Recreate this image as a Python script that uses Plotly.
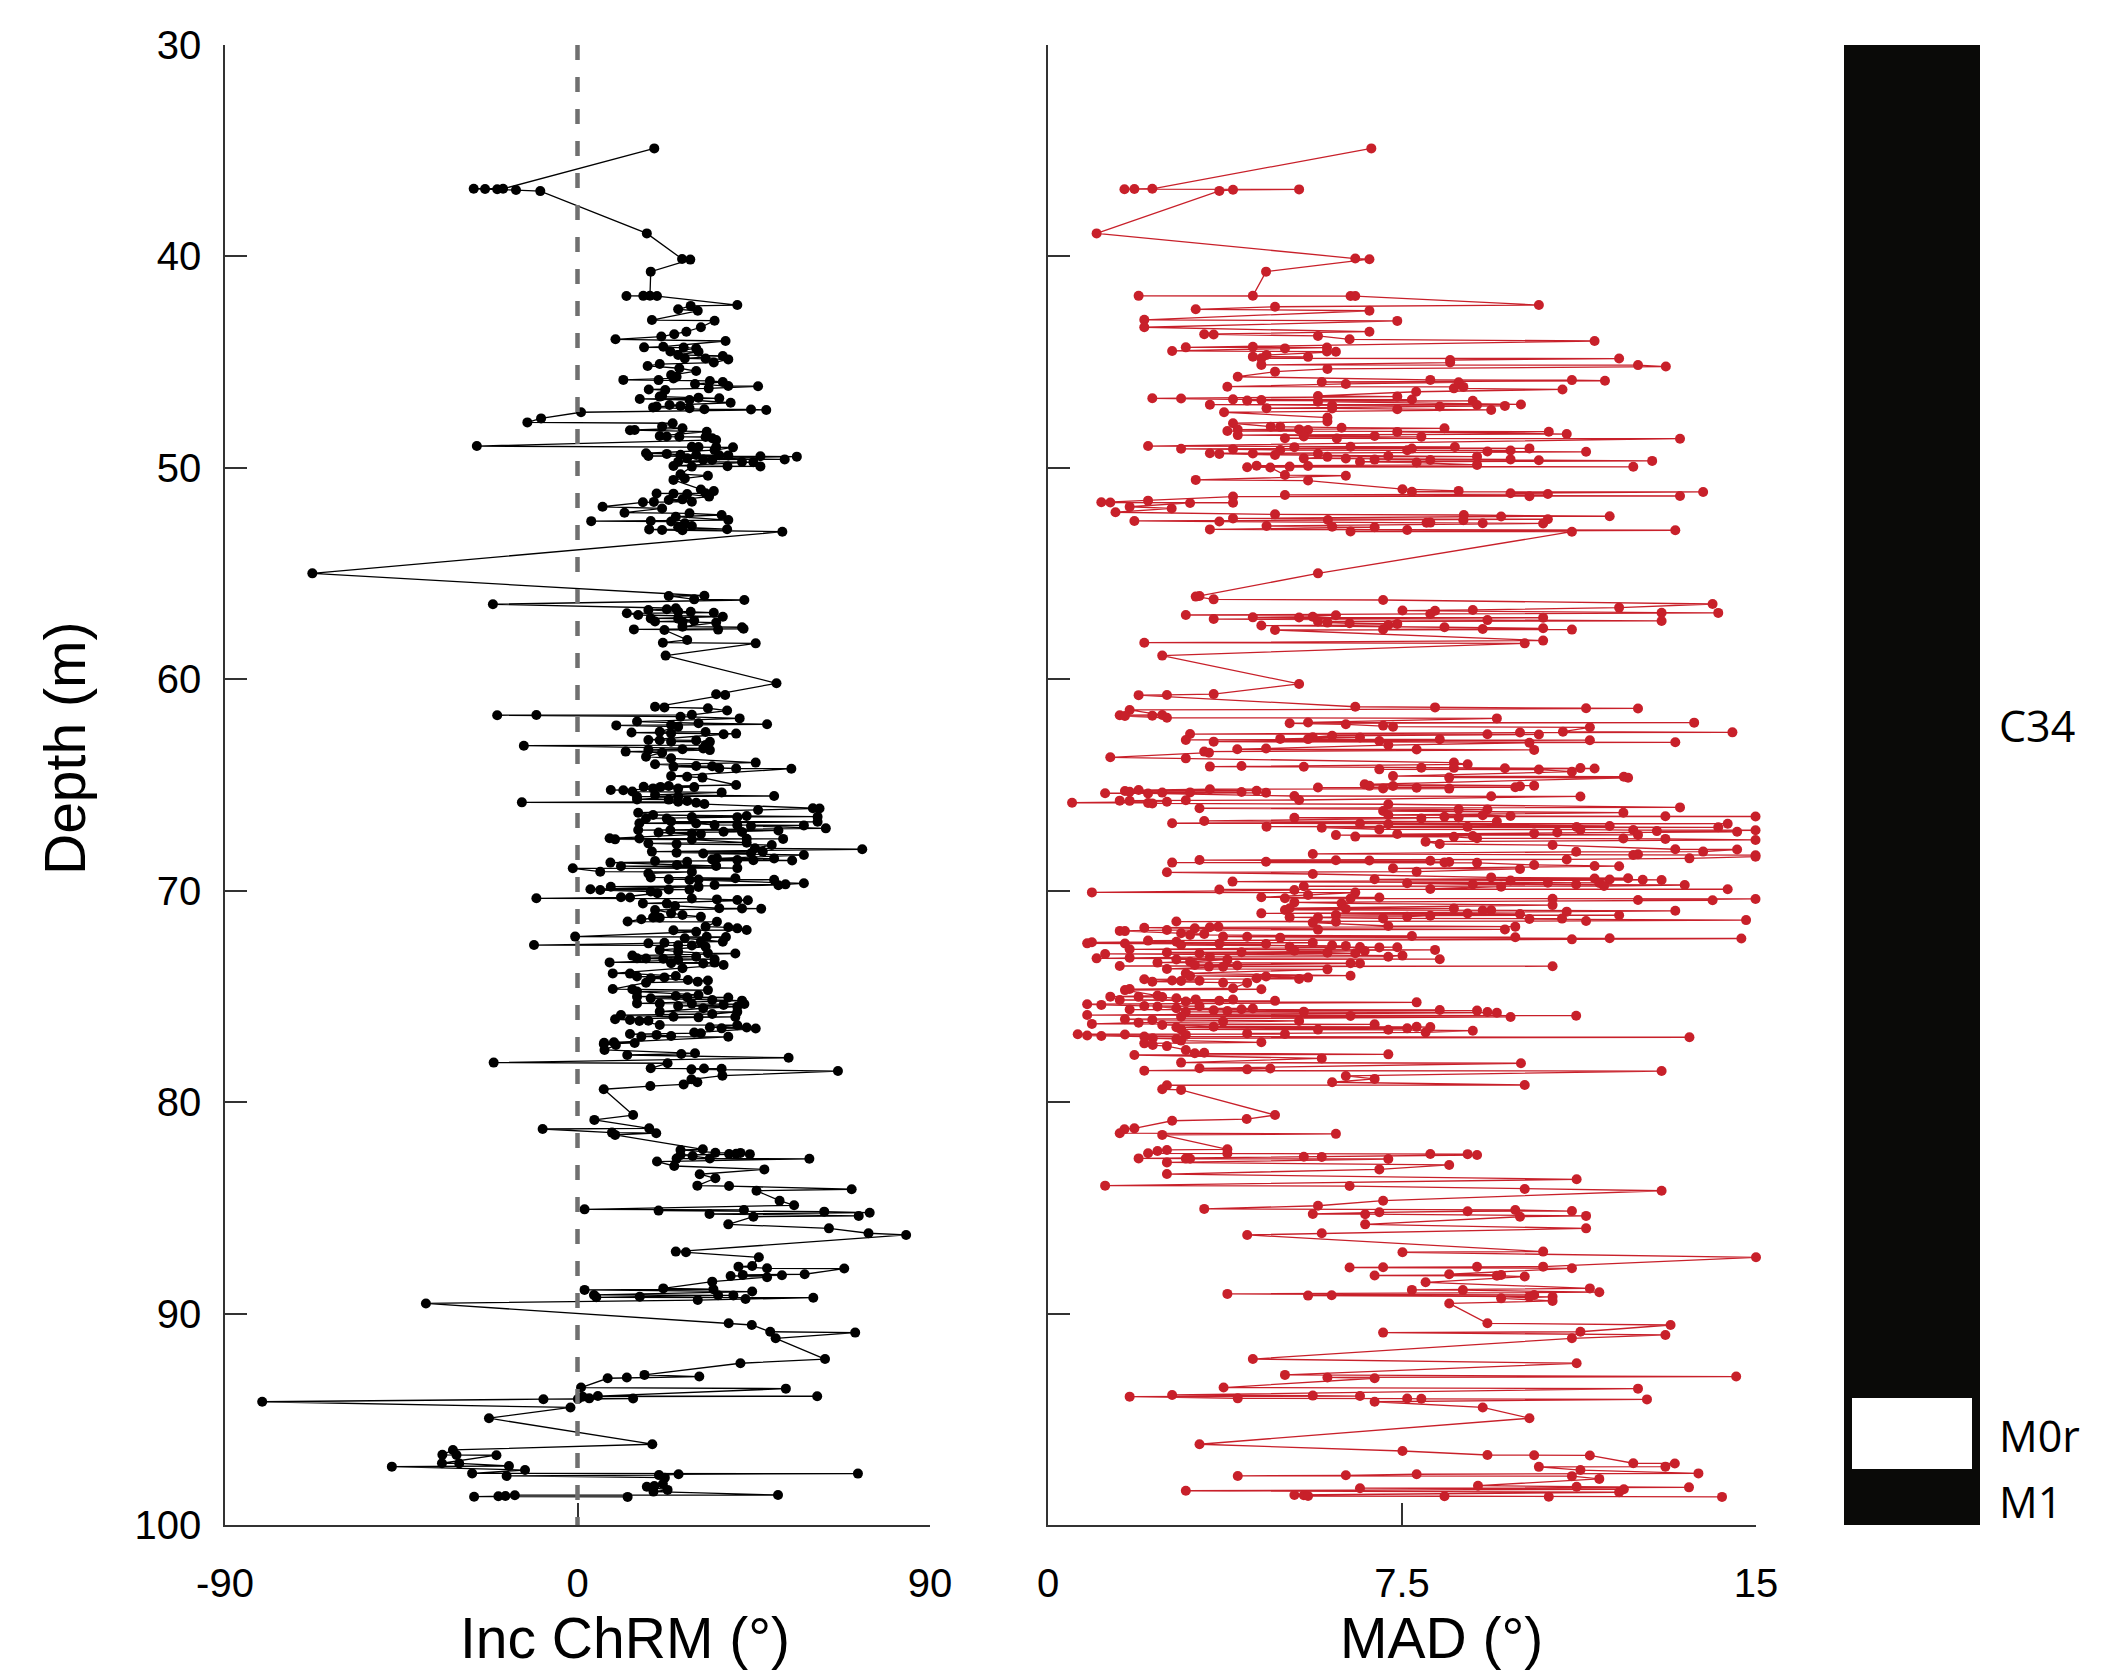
import plotly.graph_objects as go

# ---------------- data (depth in m, value in degrees) ----------------
inc_data = [
    (34.89, 19.6), (36.80, -19.0), (36.80, -26.5), (36.81, -23.6), (36.82, -20.5), (36.86, -15.7),
    (36.91, -9.5), (38.91, 17.7), (40.12, 26.7), (40.15, 28.8), (40.72, 18.7),
    (41.86, 18.5), (41.865, 16.8), (41.87, 12.5), (41.875, 20.3),
    (42.30, 40.8), (42.34, 28.9), (42.50, 25.7), (42.57, 30.7), (43.01, 19.0), (43.04, 35.0),
    (43.35, 31.5), (43.56, 27.8), (43.68, 24.7), (43.79, 21.4), (43.92, 9.7), (44.00, 37.8),
    (44.27, 21.9), (44.30, 17.0), (44.31, 27.1), (44.35, 30.3), (44.50, 23.7), (44.51, 30.9),
    (44.66, 25.7), (44.71, 37.1), (44.82, 27.4), (44.83, 32.7), (44.87, 38.5), (45.02, 34.8),
    (45.09, 21.0), (45.18, 17.9), (45.29, 26.0), (45.42, 30.3), (45.61, 23.9), (45.69, 25.3),
    (45.77, 24.5), (45.84, 11.7), (45.85, 20.7), (45.89, 33.8), (45.94, 37.1), (46.03, 30.0),
    (46.13, 38.5), (46.14, 46.1), (46.24, 33.5), (46.29, 18.2), (46.32, 22.4), (46.60, 21.6),
    (46.63, 21.0), (46.68, 30.9), (46.71, 36.2), (46.74, 15.9), (46.79, 28.6), (46.92, 39.1),
    (47.03, 23.5), (47.07, 26.3), (47.10, 20.2), (47.14, 19.3), (47.18, 28.6), (47.23, 32.4),
    (47.24, 44.3), (47.26, 48.2), (47.37, 0.9), (47.66, -9.3), (47.85, -12.8), (47.89, 24.3),
    (48.05, 21.6), (48.13, 26.8), (48.21, 14.6), (48.22, 13.4), (48.29, 33.0), (48.49, 21.0),
    (48.52, 22.8), (48.53, 26.0), (48.54, 32.7), (48.60, 34.4), (48.68, 35.4), (48.97, -25.7),
    (49.00, 29.2), (49.01, 30.9), (49.02, 35.4), (49.03, 39.7), (49.16, 35.0), (49.31, 17.5),
    (49.34, 22.8), (49.38, 26.3), (49.39, 30.3), (49.40, 36.2), (49.41, 38.5), (49.44, 18.1),
    (49.45, 46.7), (49.47, 56.0), (49.55, 28.0), (49.60, 52.9), (49.61, 32.1), (49.63, 34.4),
    (49.71, 25.7), (49.72, 42.0), (49.73, 44.9), (49.91, 24.5), (49.92, 38.3), (49.93, 46.7),
    (49.94, 29.2), (50.30, 26.3), (50.37, 33.3), (50.50, 27.4), (50.57, 24.5), (51.02, 31.5),
    (51.10, 34.8), (51.20, 32.7), (51.21, 20.2), (51.22, 24.5), (51.24, 28.0), (51.36, 33.6),
    (51.49, 26.8), (51.52, 23.3), (51.60, 29.2), (51.61, 19.5), (51.63, 16.7), (51.84, 6.4),
    (51.92, 21.6), (52.12, 12.0), (52.15, 28.6), (52.23, 36.8), (52.31, 25.1), (52.47, 38.5),
    (52.51, 18.7), (52.52, 3.5), (52.54, 23.9), (52.62, 27.4), (52.75, 29.2), (52.81, 25.7),
    (52.90, 38.2), (52.91, 18.3), (52.94, 21.6), (52.95, 26.8), (53.02, 52.3),
    (54.99, -67.7), (56.05, 32.4), (56.06, 23.3), (56.22, 29.8), (56.25, 42.6), (56.45, -21.6),
    (56.64, 25.1), (56.69, 22.8), (56.72, 18.1), (56.80, 25.7), (56.81, 28.9), (56.85, 34.8),
    (56.88, 12.6), (56.96, 15.5), (57.04, 37.1), (57.12, 18.7), (57.13, 25.7), (57.23, 29.8),
    (57.27, 19.8), (57.28, 26.8), (57.32, 35.4), (57.51, 26.8), (57.54, 42.0), (57.61, 42.4),
    (57.64, 14.4), (57.65, 35.9), (57.67, 22.2), (58.14, 28.0), (58.27, 21.8), (58.30, 45.5),
    (58.88, 22.5), (60.19, 50.8), (60.71, 35.4), (60.74, 37.7), (61.30, 19.8), (61.33, 22.2),
    (61.37, 33.3), (61.48, 38.2), (61.68, 29.2), (61.69, -10.5), (61.70, -20.5), (61.77, 26.3),
    (61.85, 41.4), (62.00, 15.2), (62.08, 30.9), (62.13, 48.4), (62.16, 23.9), (62.18, 9.9),
    (62.24, 25.7), (62.48, 21.0), (62.49, 32.7), (62.52, 13.8), (62.56, 23.9), (62.57, 40.5),
    (62.60, 37.3), (62.87, 18.1), (62.88, 21.0), (62.89, 30.3), (62.95, 23.9), (62.96, 33.8),
    (63.11, 32.7), (63.14, -13.7), (63.27, 32.1), (63.31, 26.8), (63.34, 18.1), (63.35, 33.8),
    (63.42, 12.3), (63.47, 21.6), (63.66, 17.5), (63.74, 23.9), (63.94, 45.5), (64.02, 19.8),
    (64.10, 30.3), (64.11, 34.4), (64.13, 24.5), (64.21, 36.2), (64.22, 40.5), (64.23, 54.6),
    (64.58, 23.9), (64.61, 28.0), (64.65, 31.9), (65.00, 40.5), (65.05, 23.3), (65.08, 16.9),
    (65.09, 21.2), (65.10, 29.8), (65.16, 19.3), (65.17, 25.7), (65.24, 8.5), (65.25, 11.7),
    (65.31, 14.0), (65.35, 36.8), (65.47, 19.8), (65.52, 50.2), (65.55, 15.2), (65.56, 25.7),
    (65.68, 15.2), (65.69, 23.3), (65.76, 28.0), (65.79, 25.7), (65.82, -14.2), (65.84, 30.3),
    (65.90, 32.4), (66.10, 60.1), (66.11, 61.8), (66.18, 46.1), (66.31, 15.5), (66.42, 19.3),
    (66.47, 43.2), (66.50, 61.3), (66.51, 29.2), (66.52, 40.8), (66.58, 17.5), (66.59, 22.8),
    (66.73, 23.9), (66.74, 61.3), (66.81, 15.8), (66.82, 30.3), (66.89, 35.0), (66.90, 40.8),
    (66.91, 57.8), (66.94, 44.3), (67.05, 63.4), (67.13, 15.5), (67.14, 23.7), (67.15, 51.3),
    (67.21, 37.3), (67.22, 42.0), (67.25, 20.7), (67.29, 29.2), (67.32, 31.5), (67.52, 8.2),
    (67.53, 15.8), (67.54, 43.2), (67.55, 52.5), (67.57, 9.6), (67.58, 29.2), (67.73, 43.2),
    (67.76, 18.1), (67.79, 25.3), (67.84, 49.6), (67.99, 45.3), (68.04, 72.7), (68.15, 19.0),
    (68.16, 47.3), (68.20, 25.3), (68.23, 44.3), (68.24, 32.1), (68.31, 57.8), (68.47, 35.6),
    (68.48, 50.2), (68.52, 34.4), (68.55, 40.8), (68.56, 44.9), (68.57, 54.8), (68.60, 19.8),
    (68.63, 28.0), (68.67, 8.4), (68.78, 25.4), (68.83, 35.4), (68.84, 11.1), (68.93, 40.8),
    (68.94, -1.2), (69.10, 5.8), (69.11, 29.2), (69.18, 18.1), (69.37, 18.7), (69.41, 40.3),
    (69.46, 23.3), (69.47, 30.9), (69.48, 50.2), (69.49, 28.6), (69.65, 57.8), (69.70, 53.1),
    (69.73, 35.0), (69.74, 51.3), (69.81, 8.5), (69.82, 30.9), (69.93, 3.3), (69.94, 23.3),
    (69.95, 28.6), (69.97, 5.8), (70.04, 18.7), (70.12, 20.4), (70.31, 11.1), (70.32, 13.4),
    (70.36, -10.5), (70.37, 29.2), (70.41, 35.6), (70.44, 40.8), (70.45, 43.5), (70.60, 16.7),
    (70.61, 22.8), (70.72, 24.9), (70.83, 36.2), (70.84, 42.0), (70.85, 46.9), (70.91, 19.8),
    (71.07, 23.9), (71.15, 26.8), (71.23, 31.5), (71.27, 19.3), (71.28, 21.0), (71.35, 16.3),
    (71.46, 12.8), (71.47, 35.6), (71.70, 32.7), (71.73, 38.5), (71.78, 40.8), (71.86, 43.2),
    (71.87, 24.5), (71.94, 30.3), (72.17, -0.6), (72.18, 33.0), (72.19, 37.9), (72.25, 27.4),
    (72.41, 37.1), (72.42, 31.5), (72.46, 22.2), (72.49, 18.1), (72.57, -11.1), (72.58, 25.7),
    (72.59, 29.2), (72.65, 32.7), (72.80, 21.0), (72.88, 25.7), (72.96, 33.3), (72.97, 40.3),
    (73.07, 14.0), (73.12, 30.3), (73.20, 15.2), (73.21, 17.5), (73.22, 21.9), (73.24, 35.0),
    (73.28, 25.7), (73.39, 8.2), (73.40, 35.0), (73.43, 23.9), (73.44, 32.1), (73.51, 37.3),
    (73.67, 26.8), (73.91, 9.0), (73.92, 13.4), (74.03, 25.1), (74.06, 15.2), (74.10, 22.2),
    (74.14, 18.7), (74.22, 28.2), (74.25, 33.3), (74.30, 30.7), (74.35, 17.5), (74.65, 9.0),
    (74.66, 14.0), (74.70, 33.3), (74.77, 15.2), (74.93, 30.9), (74.98, 25.1), (75.01, 15.2),
    (75.04, 28.0), (75.05, 38.5), (75.09, 18.7), (75.17, 34.4), (75.20, 42.0), (75.33, 15.2),
    (75.34, 21.0), (75.35, 29.2), (75.36, 42.6), (75.40, 37.3), (75.45, 25.7), (75.48, 40.8),
    (75.56, 32.1), (75.72, 21.0), (75.73, 40.8), (75.83, 34.4), (75.88, 11.1), (75.96, 24.5),
    (75.97, 40.3), (75.99, 30.9), (76.08, 9.6), (76.11, 13.4), (76.15, 18.1), (76.16, 15.8),
    (76.35, 21.0), (76.36, 40.8), (76.46, 33.8), (76.47, 43.2), (76.51, 36.8), (76.52, 45.5),
    (76.71, 29.8), (76.74, 31.5), (76.78, 13.4), (76.82, 20.2), (76.87, 23.9), (76.90, 16.3),
    (76.91, 38.5), (77.17, 9.3), (77.19, 6.8),
    (77.20, 14.6), (77.25, 6.7), (77.30, 9.8), (77.53, 6.9), (77.69, 30.0), (77.72, 26.5),
    (77.77, 12.7), (77.90, 53.9), (78.13, -21.4), (78.16, 23.0), (78.40, 18.7), (78.41, 32.3),
    (78.42, 36.8), (78.45, 29.1), (78.53, 66.5), (78.75, 37.0), (78.92, 29.1), (79.06, 30.6),
    (79.16, 27.1), (79.24, 18.6), (79.39, 6.7), (80.61, 14.2), (80.84, 4.3), (81.24, 18.3),
    (81.27, -8.9), (81.44, 8.8), (81.47, 20.1), (81.55, 9.6), (82.23, 32.0), (82.26, 26.3),
    (82.39, 35.2), (82.40, 41.6), (82.44, 40.5), (82.45, 38.7), (82.46, 44.0), (82.50, 26.3),
    (82.55, 29.4), (82.66, 33.8), (82.67, 25.3), (82.68, 59.2), (82.81, 20.3), (83.02, 24.7),
    (83.18, 47.7), (83.41, 31.2), (83.60, 35.2), (83.95, 30.6), (83.97, 38.7), (84.12, 70.0),
    (84.19, 45.7), (84.66, 51.6), (84.88, 55.3), (85.07, 1.8), (85.10, 42.5), (85.13, 20.7),
    (85.18, 63.0), (85.23, 74.6), (85.29, 33.7), (85.38, 71.8), (85.42, 44.9), (85.78, 38.5),
    (85.97, 64.2), (86.20, 74.3), (86.28, 83.9), (87.07, 25.1), (87.10, 27.7), (87.34, 46.3),
    (87.75, 44.6), (87.78, 41.1), (87.86, 48.4), (87.87, 68.1), (88.14, 58.0), (88.17, 42.2),
    (88.19, 52.2), (88.22, 39.1), (88.28, 48.4), (88.49, 34.4), (88.81, 21.9), (88.85, 34.7),
    (88.88, 1.8), (88.96, 44.6), (89.12, 4.2), (89.13, 35.9), (89.14, 39.8), (89.20, 15.9),
    (89.23, 4.8), (89.25, 60.2), (89.31, 42.9), (89.36, 30.7),
    (89.52, -38.7), (90.46, 38.6), (90.54, 44.5), (90.86, 49.2), (90.90, 70.9), (91.17, 50.6),
    (92.15, 63.2), (92.35, 41.6), (92.90, 17.1), (92.98, 31.1), (93.02, 12.6), (93.06, 7.7),
    (93.50, 0.9), (93.55, 53.2), (93.90, 5.2), (93.91, 61.2), (93.93, 1.3), (94.01, 3.0),
    (94.02, 14.2), (94.04, 0.1), (94.05, -8.7), (94.17, -80.5), (94.44, -1.8), (94.95, -22.6),
    (96.18, 19.1), (96.45, -31.8), (96.68, -34.5), (96.69, -30.9), (96.70, -20.7), (97.08, -34.6),
    (97.09, -30.2), (97.21, -17.5), (97.24, -47.4), (97.40, -13.4), (97.56, -26.9), (97.57, 71.6),
    (97.60, 25.8), (97.64, 20.8), (97.68, -18.1), (97.76, 22.3), (98.06, 21.8), (98.16, 19.6),
    (98.19, 17.7), (98.34, 23.0), (98.42, 19.4), (98.58, 51.2), (98.59, -16.0), (98.63, -18.4),
    (98.64, -20.2), (98.66, -26.4), (98.67, 12.8),
]

mad_data = [
    (34.89, 6.85), (36.80, 2.21), (36.81, 1.83), (36.82, 1.62), (36.83, 5.32), (36.85, 3.92),
    (36.90, 3.63), (38.91, 1.03), (40.10, 6.51), (40.13, 6.81), (40.72, 4.62),
    (41.86, 4.34), (41.865, 1.92), (41.87, 6.41), (41.875, 6.51),
    (42.30, 10.4), (42.38, 4.81), (42.50, 3.13), (42.57, 6.81), (43.00, 2.04), (43.05, 7.40),
    (43.35, 2.04), (43.56, 6.81), (43.68, 3.31), (43.69, 3.51), (43.76, 5.72), (43.92, 6.39),
    (44.00, 11.58), (44.27, 4.34), (44.30, 2.92), (44.31, 5.91), (44.35, 5.02), (44.47, 2.63),
    (44.50, 5.91), (44.51, 6.10), (44.66, 4.63), (44.74, 4.34), (44.75, 5.51), (44.82, 4.52),
    (44.83, 12.10), (44.90, 8.52), (45.02, 8.52), (45.13, 4.52), (45.14, 12.50), (45.21, 13.09),
    (45.32, 5.92), (45.45, 4.81), (45.69, 4.02), (45.84, 8.10), (45.85, 11.10), (45.88, 11.80),
    (45.94, 5.80), (45.95, 8.70), (46.03, 6.31), (46.16, 3.80), (46.17, 8.80), (46.24, 8.60),
    (46.29, 10.90), (46.40, 7.80), (46.60, 5.72), (46.63, 7.40), (46.71, 2.21), (46.72, 2.82),
    (46.76, 3.92), (46.77, 7.71), (46.79, 4.52), (46.82, 4.22), (46.83, 9.00), (46.87, 5.72),
    (47.00, 10.02), (47.01, 3.43), (47.03, 9.09), (47.04, 6.02), (47.07, 9.68), (47.10, 8.30),
    (47.18, 4.63), (47.19, 6.02), (47.23, 7.40), (47.26, 9.39), (47.37, 3.73), (47.62, 5.92),
    (47.81, 5.92), (47.89, 3.92), (48.05, 4.72), (48.06, 4.92), (48.10, 6.22), (48.13, 8.40),
    (48.18, 5.32), (48.19, 4.02), (48.21, 5.51), (48.26, 3.80), (48.29, 10.61), (48.30, 7.40),
    (48.40, 10.99), (48.45, 4.02), (48.49, 6.92), (48.52, 5.42), (48.53, 7.91), (48.60, 5.02),
    (48.61, 6.12), (48.62, 13.39), (48.97, 2.12), (49.00, 6.41), (49.01, 8.62), (49.02, 5.22),
    (49.08, 10.20), (49.09, 7.71), (49.10, 2.82), (49.12, 3.92), (49.16, 4.92), (49.17, 7.61),
    (49.18, 9.80), (49.23, 9.31), (49.24, 11.40), (49.31, 3.43), (49.32, 4.34), (49.33, 5.72),
    (49.34, 3.63), (49.39, 4.81), (49.44, 7.21), (49.47, 9.09), (49.48, 5.92), (49.55, 5.42),
    (49.56, 6.31), (49.60, 9.80), (49.61, 6.92), (49.63, 8.10), (49.64, 10.40), (49.67, 12.80),
    (49.71, 6.61), (49.75, 7.81), (49.86, 9.09), (49.90, 4.42), (49.91, 5.51), (49.94, 5.12),
    (49.95, 12.40), (49.97, 4.22), (49.98, 4.71), (50.34, 5.02), (50.37, 6.31), (50.57, 3.13),
    (50.60, 5.51), (51.01, 7.51), (51.09, 8.70), (51.13, 7.71), (51.14, 13.88), (51.20, 9.80),
    (51.24, 10.59), (51.28, 5.02), (51.33, 13.39), (51.34, 10.20), (51.36, 3.92), (51.55, 2.12),
    (51.63, 1.13), (51.64, 1.32), (51.65, 3.92), (51.66, 3.01), (51.84, 1.73), (51.92, 2.62),
    (52.10, 1.43), (52.20, 4.81), (52.23, 8.81), (52.29, 11.90), (52.30, 9.60), (52.39, 3.92),
    (52.43, 10.59), (52.47, 5.93), (52.48, 8.80), (52.51, 1.83), (52.54, 3.63), (52.59, 8.10),
    (52.60, 8.02), (52.62, 9.21), (52.63, 10.49), (52.75, 4.63), (52.78, 6.02), (52.81, 6.92),
    (52.91, 3.43), (52.94, 7.61), (52.95, 13.29), (53.01, 6.41), (53.02, 11.10),
    (54.99, 5.72), (56.06, 3.21), (56.09, 3.13), (56.22, 3.51), (56.25, 7.10), (56.44, 14.08),
    (56.61, 12.10), (56.72, 9.00), (56.75, 7.51), (56.76, 8.20), (56.85, 13.00), (56.86, 14.20),
    (56.91, 8.10), (56.96, 2.92), (56.97, 6.10), (57.04, 5.61), (57.07, 4.34), (57.08, 5.32),
    (57.09, 10.49), (57.15, 3.51), (57.20, 9.31), (57.24, 13.00), (57.27, 5.72), (57.32, 5.92),
    (57.35, 6.39), (57.38, 7.40), (57.43, 7.21), (57.46, 4.52), (57.54, 8.40), (57.59, 10.49),
    (57.62, 9.21), (57.64, 7.10), (57.65, 11.10), (57.67, 4.81), (58.17, 10.49), (58.27, 2.04),
    (58.30, 10.10), (58.88, 2.42), (60.22, 5.32), (60.70, 3.51), (60.74, 2.52), (60.75, 1.92),
    (61.30, 6.51), (61.33, 8.20), (61.37, 11.40), (61.38, 12.50), (61.45, 1.73), (61.69, 2.42),
    (61.70, 1.52), (61.72, 2.21), (61.74, 1.63), (61.82, 2.52), (61.85, 9.51), (62.04, 5.51),
    (62.05, 13.69), (62.08, 5.12), (62.13, 6.31), (62.19, 7.10), (62.24, 7.31), (62.27, 11.48),
    (62.48, 10.91), (62.51, 14.50), (62.52, 10.00), (62.59, 3.01), (62.60, 9.31), (62.61, 10.40),
    (62.67, 6.02), (62.74, 5.61), (62.75, 6.61), (62.82, 4.92), (62.83, 5.51), (62.84, 8.30),
    (62.87, 2.92), (62.88, 11.48), (62.92, 7.02), (62.95, 3.51), (62.98, 13.29), (63.00, 10.20),
    (63.11, 7.21), (63.27, 4.62), (63.31, 4.01), (63.32, 7.81), (63.34, 10.30), (63.42, 3.31),
    (63.47, 3.41), (63.69, 1.32), (63.74, 2.92), (63.94, 8.60), (64.02, 8.89), (64.10, 4.10),
    (64.13, 3.43), (64.14, 5.42), (64.18, 7.91), (64.19, 8.60), (64.20, 11.28), (64.21, 9.68),
    (64.22, 11.58), (64.26, 7.02), (64.27, 10.40), (64.37, 11.10), (64.58, 7.31), (64.61, 12.20),
    (64.65, 8.50), (64.66, 12.29), (64.97, 6.71), (65.03, 10.30), (65.04, 6.81), (65.05, 7.31),
    (65.06, 10.00), (65.11, 9.90), (65.12, 5.72), (65.13, 7.81), (65.16, 7.10), (65.17, 8.50),
    (65.20, 3.43), (65.24, 1.92), (65.27, 4.42), (65.28, 1.63), (65.32, 1.73), (65.33, 4.10),
    (65.35, 3.01), (65.36, 2.42), (65.37, 4.62), (65.39, 1.21), (65.40, 2.12), (65.52, 5.22),
    (65.53, 9.39), (65.54, 11.28),
    (65.71, 5.32), (65.72, 2.92), (65.74, 1.52), (65.75, 1.73), (65.79, 2.52), (65.84, 0.51),
    (65.85, 2.12), (65.87, 2.21), (65.91, 7.21), (66.06, 13.39), (66.10, 3.21), (66.15, 8.70),
    (66.16, 9.31), (66.23, 7.10), (66.31, 12.19), (66.42, 7.21), (66.43, 9.21), (66.47, 9.80),
    (66.48, 13.08), (66.49, 14.99), (66.50, 8.40), (66.54, 8.70), (66.55, 5.22), (66.58, 7.91),
    (66.70, 3.31), (66.73, 9.51), (66.81, 2.63), (66.82, 6.61), (66.83, 14.40), (66.86, 7.21),
    (66.94, 11.90), (66.97, 4.63), (66.98, 8.89), (66.99, 11.20), (67.00, 14.20), (67.02, 5.80),
    (67.10, 7.02), (67.11, 11.28), (67.13, 12.40), (67.14, 14.99), (67.18, 12.90), (67.21, 14.60),
    (67.25, 10.79), (67.29, 10.30), (67.32, 7.40), (67.36, 12.50), (67.37, 6.10), (67.41, 9.00),
    (67.44, 6.51), (67.45, 8.60), (67.52, 9.09), (67.53, 12.19), (67.55, 13.08), (67.60, 14.99),
    (67.68, 8.00), (67.79, 8.30), (67.84, 10.69), (68.04, 13.29), (68.05, 14.60), (68.15, 13.88),
    (68.16, 11.19), (68.26, 5.61), (68.28, 12.50), (68.31, 12.40), (68.32, 14.99), (68.39, 14.99),
    (68.47, 13.59), (68.52, 10.99), (68.55, 3.21), (68.56, 6.10), (68.57, 6.81), (68.58, 8.10),
    (68.63, 4.62), (68.64, 8.50), (68.66, 8.40), (68.67, 2.63), (68.68, 9.09), (68.78, 10.30),
    (68.83, 11.58), (68.84, 12.10), (68.94, 7.31), (68.97, 10.00), (69.10, 7.81), (69.13, 2.52),
    (69.21, 5.61), (69.37, 9.39), (69.41, 12.29), (69.42, 11.58), (69.46, 6.92), (69.47, 11.90),
    (69.48, 12.60), (69.49, 13.00), (69.52, 9.80), (69.57, 3.91), (69.62, 10.59), (69.63, 11.68),
    (69.65, 7.61), (69.70, 9.00), (69.71, 11.19), (69.73, 13.49), (69.78, 11.78), (69.79, 5.42),
    (69.81, 9.60), (69.92, 8.10), (69.93, 14.40), (69.94, 3.63), (69.97, 5.22), (70.08, 0.93),
    (70.09, 6.51), (70.20, 5.51), (70.31, 4.52), (70.32, 7.02), (70.36, 5.02), (70.37, 6.41),
    (70.38, 10.69), (70.39, 14.99), (70.44, 12.50), (70.45, 14.08), (70.55, 5.22), (70.60, 6.22),
    (70.68, 10.69), (70.83, 5.12), (70.84, 8.60), (70.86, 6.31), (70.91, 5.02), (70.92, 9.39),
    (70.94, 9.21), (70.95, 13.29), (70.99, 10.99), (71.07, 4.52), (71.08, 8.89), (71.10, 10.00),
    (71.15, 6.10), (71.16, 12.10), (71.18, 8.10), (71.23, 7.61), (71.26, 5.12), (71.27, 5.72),
    (71.31, 7.10), (71.32, 10.89), (71.34, 10.20), (71.39, 14.79), (71.43, 11.40), (71.46, 2.72),
    (71.47, 6.10), (71.51, 5.61), (71.67, 7.21), (71.70, 9.90), (71.71, 3.61), (71.73, 3.43),
    (71.75, 2.04), (71.78, 3.11), (71.83, 9.68), (71.84, 5.72), (71.86, 2.52), (71.90, 1.52),
    (71.91, 1.63), (72.01, 2.82), (72.05, 3.31), (72.09, 3.01), (72.14, 7.71), (72.17, 3.71),
    (72.18, 4.22), (72.20, 9.90), (72.22, 4.92), (72.25, 11.90), (72.26, 14.69), (72.30, 11.10),
    (72.36, 2.12), (72.41, 2.72), (72.44, 0.93), (72.46, 5.61), (72.49, 0.83), (72.50, 1.63),
    (72.51, 3.63), (72.52, 4.62), (72.57, 2.82), (72.58, 6.02), (72.61, 6.31), (72.65, 5.12),
    (72.66, 6.61), (72.67, 7.40), (72.68, 7.02), (72.77, 1.73), (72.80, 8.20), (72.84, 5.22),
    (72.85, 6.71), (72.91, 4.10), (72.92, 2.52), (72.93, 5.92), (72.96, 6.51), (72.97, 3.21),
    (72.99, 1.21), (73.07, 7.51), (73.12, 7.21), (73.13, 3.43), (73.17, 1.73), (73.20, 1.03),
    (73.24, 8.30), (73.25, 2.72), (73.26, 3.80), (73.36, 3.01), (73.40, 2.32), (73.43, 6.41),
    (73.44, 6.61), (73.51, 3.11), (73.54, 4.01), (73.56, 1.52), (73.57, 10.69), (73.59, 3.41),
    (73.60, 3.71), (73.70, 2.52), (73.72, 5.92), (73.91, 2.92), (74.02, 6.41), (74.03, 3.01),
    (74.06, 4.62), (74.11, 5.51), (74.14, 4.42), (74.17, 5.32), (74.19, 2.04), (74.25, 2.63),
    (74.26, 3.21), (74.27, 2.82), (74.30, 2.21), (74.35, 3.71), (74.36, 4.22), (74.61, 3.92),
    (74.65, 1.73), (74.66, 4.52), (74.70, 1.63), (74.96, 2.32), (75.01, 1.32), (75.02, 1.92),
    (75.03, 2.42), (75.09, 2.72), (75.14, 3.13), (75.15, 3.92), (75.17, 1.52), (75.20, 3.63),
    (75.21, 4.81), (75.24, 2.92), (75.28, 7.81), (75.37, 0.83), (75.40, 1.13), (75.45, 2.04),
    (75.46, 3.21), (75.48, 2.32), (75.56, 2.72), (75.57, 4.34), (75.61, 4.10), (75.62, 1.73),
    (75.64, 8.30), (75.65, 3.51), (75.67, 9.09), (75.69, 3.80), (75.72, 5.42), (75.73, 2.92),
    (75.74, 9.31), (75.77, 9.51), (75.88, 0.83), (75.91, 11.19), (75.92, 6.41), (75.96, 2.82),
    (75.97, 9.80), (76.08, 1.63), (76.11, 2.21), (76.16, 5.32), (76.19, 3.71), (76.24, 1.92),
    (76.30, 0.93), (76.32, 6.92), (76.35, 2.42), (76.43, 3.51), (76.44, 7.81), (76.45, 8.10),
    (76.46, 2.72), (76.51, 7.61), (76.56, 2.82), (76.57, 5.72), (76.58, 7.21), (76.62, 9.00),
    (76.70, 8.00), (76.75, 4.22), (76.78, 5.02), (76.79, 0.63), (76.80, 1.63), (76.82, 2.92),
    (76.85, 0.83), (76.87, 1.13), (76.90, 2.04), (76.93, 13.59), (76.98, 2.22), (77.01, 2.72),
    (77.09, 2.82), (77.17, 4.52), (77.22, 2.04), (77.30, 2.22), (77.35, 2.52),
    (77.53, 2.92), (77.66, 3.31), (77.69, 3.11), (77.74, 7.21), (77.77, 1.83), (77.93, 5.80),
    (78.13, 2.82), (78.16, 10.02), (78.40, 3.21), (78.41, 4.71), (78.45, 4.22), (78.51, 2.04),
    (78.53, 13.00), (78.76, 6.31), (78.90, 6.92), (79.06, 6.02), (79.19, 10.10), (79.20, 2.52),
    (79.39, 2.42), (79.42, 2.82), (80.61, 4.81), (80.80, 4.21), (80.88, 2.63), (81.24, 1.83),
    (81.28, 1.62), (81.47, 1.52), (81.50, 6.10), (81.55, 2.42), (82.23, 3.80), (82.26, 2.52),
    (82.31, 2.32), (82.42, 2.12), (82.43, 3.80), (82.45, 8.10), (82.46, 8.89), (82.50, 9.09),
    (82.58, 5.42), (82.59, 5.80), (82.66, 1.92), (82.67, 2.92), (82.68, 3.01), (82.69, 7.21),
    (82.85, 2.52), (82.97, 8.50), (83.18, 7.02), (83.40, 2.52), (83.65, 11.20), (83.95, 1.21),
    (83.97, 6.39), (84.11, 10.10), (84.19, 13.00), (84.66, 7.10), (84.90, 5.72), (85.05, 3.31),
    (85.10, 9.90), (85.15, 11.10), (85.16, 8.89), (85.21, 7.02), (85.29, 5.61), (85.30, 6.72),
    (85.38, 11.40), (85.42, 10.00), (85.78, 6.72), (85.97, 11.40), (86.20, 5.80), (86.28, 4.22),
    (87.07, 10.49), (87.10, 7.51), (87.34, 15.00), (87.78, 10.49), (87.79, 9.09), (87.81, 7.10),
    (87.82, 6.39), (87.86, 11.10), (88.14, 8.50), (88.17, 9.60), (88.20, 6.92), (88.21, 9.51),
    (88.25, 10.10), (88.52, 8.00), (88.81, 11.48), (88.88, 7.71), (88.89, 8.79), (88.99, 11.68),
    (89.07, 3.80), (89.12, 10.30), (89.13, 6.01), (89.15, 5.51), (89.20, 10.20), (89.21, 10.69),
    (89.28, 9.60), (89.40, 10.69), (89.52, 8.50),
    (90.46, 9.31), (90.54, 13.19), (90.86, 11.28), (90.90, 7.10), (91.01, 13.08), (91.17, 11.10),
    (92.15, 4.34), (92.35, 11.20), (92.90, 5.02), (92.98, 14.58), (93.02, 5.92), (93.06, 6.92),
    (93.50, 3.72), (93.55, 12.50), (93.85, 2.63), (93.88, 5.61), (93.90, 6.61), (93.93, 1.73),
    (94.01, 4.02), (94.02, 7.61), (94.03, 7.91), (94.06, 12.69), (94.17, 6.92), (94.44, 9.21),
    (94.95, 10.20), (96.18, 3.21), (96.50, 7.51), (96.69, 9.31), (96.70, 10.30), (96.71, 11.48),
    (97.08, 12.40), (97.09, 13.28), (97.24, 13.08), (97.25, 10.40), (97.40, 11.28), (97.56, 13.78),
    (97.60, 7.81), (97.65, 6.31), (97.68, 4.02), (97.69, 11.10), (97.82, 11.68), (98.14, 9.11),
    (98.19, 11.20), (98.22, 13.58), (98.26, 6.61), (98.31, 12.20), (98.38, 2.92), (98.45, 12.10),
    (98.58, 5.22), (98.59, 5.42), (98.63, 5.51), (98.64, 8.40), (98.66, 10.61), (98.67, 14.28),
]

# magnetic polarity column
chron_names = ["C34", "M0r", "M1"]
chron_top = [30.0, 94.0, 97.36]
chron_bottom = [94.0, 97.36, 100.0]
chron_normal = [True, False, True]
chron_label_depth = [62.2, 95.75, 98.9]

depth_ticks = [30, 40, 50, 60, 70, 80, 90, 100]
inc_ticks = [-90, 0, 90]
inc_ticktext = ["-90", "0", "90"]
mad_ticks = [0, 7.5, 15]
mad_ticktext = ["0", "7.5", "15"]

# ---------------- figure ----------------
inc_sorted = sorted(inc_data, key=lambda p: p[0])
mad_sorted = sorted(mad_data, key=lambda p: p[0])

PAGE_W, PAGE_H = 2126, 1678
BODY = 8                       # default page margin around the plot div
W, H = PAGE_W - 2 * BODY, PAGE_H - 2 * BODY


def fx(px):  # page pixel -> paper fraction (x)
    return (px - BODY) / W


def fy(py):  # page pixel -> paper fraction (y)
    return 1 - (py - BODY) / H


BLACK = "#000000"
RED = "#c8202a"
AXC = "#333333"
TICKFONT = dict(family="Liberation Sans, Arial, sans-serif", size=40, color="#000")

fig = go.Figure()
fig.add_trace(go.Scatter(
    x=[v for d, v in inc_sorted], y=[d for d, v in inc_sorted],
    mode="lines+markers", xaxis="x", yaxis="y",
    line=dict(color=BLACK, width=1.3), marker=dict(color=BLACK, size=10),
    cliponaxis=False, showlegend=False))
fig.add_trace(go.Scatter(
    x=[v for d, v in mad_sorted], y=[d for d, v in mad_sorted],
    mode="lines+markers", xaxis="x2", yaxis="y2",
    line=dict(color=RED, width=1.3), marker=dict(color=RED, size=10),
    cliponaxis=False, showlegend=False))

# polarity column: black frame then chron boxes
col_top, col_bot = min(chron_top), max(chron_bottom)
fig.add_trace(go.Bar(x=[0.5], y=[col_bot - col_top], base=[col_top], width=[1.0],
                     marker=dict(color="#0a0a08", line=dict(width=0)),
                     xaxis="x3", yaxis="y3", showlegend=False))
for t, b, n in zip(chron_top, chron_bottom, chron_normal):
    fig.add_trace(go.Bar(x=[0.5], y=[b - t], base=[t], width=[0.88],
                         marker=dict(color="#0a0a08" if n else "#ffffff", line=dict(width=0)),
                         xaxis="x3", yaxis="y3", showlegend=False))

ydom = [fy(1525), fy(45)]
common_y = dict(range=[100, 30], tickvals=depth_ticks, ticks="inside", ticklen=22,
                tickwidth=1.5, tickcolor=AXC, showline=True, linecolor=AXC, linewidth=1.5,
                showgrid=False, zeroline=False, domain=ydom, tickfont=TICKFONT,
                automargin=False)
common_x = dict(ticks="inside", ticklen=22, tickwidth=1.5, tickcolor=AXC, showline=True,
                linecolor=AXC, linewidth=1.5, showgrid=False, zeroline=False,
                tickfont=TICKFONT, ticklabelstandoff=22, automargin=False)

fig.update_layout(
    width=W, height=H, margin=dict(l=0, r=0, t=0, b=0, pad=0),
    paper_bgcolor="white", plot_bgcolor="white", showlegend=False,
    barmode="overlay", bargap=0,
    xaxis=dict(domain=[fx(225), fx(930)], range=[-90, 90], tickvals=inc_ticks,
               ticktext=inc_ticktext, anchor="y", **common_x),
    yaxis=dict(anchor="x", ticklabelstandoff=14, **common_y),
    xaxis2=dict(domain=[fx(1048), fx(1756)], range=[0, 15], tickvals=mad_ticks,
                ticktext=mad_ticktext, anchor="y2", **common_x),
    yaxis2=dict(anchor="x2", showticklabels=False, **common_y),
    xaxis3=dict(domain=[fx(1844), fx(1980)], range=[0, 1], visible=False, anchor="y3",
                automargin=False),
    yaxis3=dict(domain=ydom, range=[100, 30], visible=False, anchor="x3", automargin=False),
)

# zero-inclination reference line
fig.add_shape(type="line", xref="x", yref="y", x0=0, x1=0, y0=30, y1=100,
              line=dict(color="#707070", width=4.5, dash="15px,17px"), layer="above")

TITLEFONT = dict(family="Liberation Sans, Arial, sans-serif", size=57, color="#000")
fig.add_annotation(text="Depth (m)", x=fx(65), y=fy(749), xref="paper", yref="paper",
                   textangle=-90, showarrow=False, font=TITLEFONT,
                   xanchor="center", yanchor="middle")
fig.add_annotation(text="Inc ChRM (°)", x=fx(625), y=fy(1638), xref="paper", yref="paper",
                   showarrow=False, font=TITLEFONT, xanchor="center", yanchor="middle")
fig.add_annotation(text="MAD (°)", x=fx(1441), y=fy(1638), xref="paper", yref="paper",
                   showarrow=False, font=TITLEFONT, xanchor="center", yanchor="middle")

for name, d in zip(chron_names, chron_label_depth):
    fig.add_annotation(text=name, x=fx(1997), y=d, xref="paper", yref="y3",
                       showarrow=False, xanchor="left", yanchor="middle",
                       font=dict(family="Open Sans, sans-serif", size=43, color="#000"))

fig.write_html("out.html")
